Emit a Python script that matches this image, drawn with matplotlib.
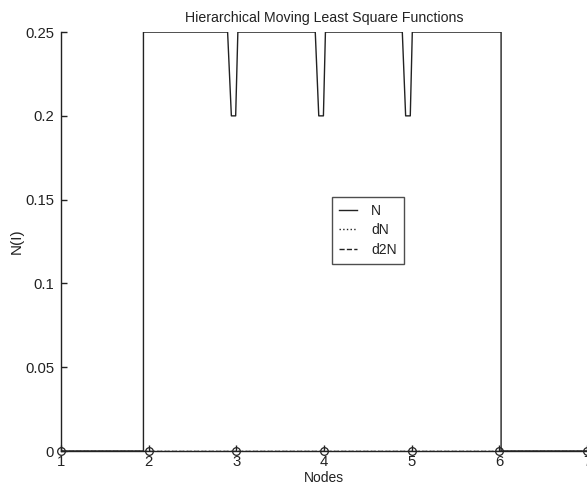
import matplotlib
import matplotlib.pyplot as plt

matplotlib.use("agg")

# node positions and the hierarchical shape function sampled along x
nodes = [1, 2, 3, 4, 5, 6, 7]
node_vals = [0, 0, 0, 0, 0, 0, 0]

x_N = [1.0, 1.94, 1.94,
       2.90, 2.943, 2.992, 3.017,
       3.90, 3.940, 3.993, 4.016,
       4.893, 4.931, 4.984, 5.007,
       6.02, 6.02, 7.0]
y_N = [0.0, 0.0, 0.25,
       0.25, 0.20, 0.20, 0.25,
       0.25, 0.20, 0.20, 0.25,
       0.25, 0.20, 0.20, 0.25,
       0.25, 0.0, 0.0]

x_dN = [1.0, 7.0]
y_dN = [0.0, 0.0]
x_d2N = [1.0, 7.0]
y_d2N = [0.0, 0.0]

yticks = [0, 0.05, 0.1, 0.15, 0.2, 0.25]
yticklabels = ["0", "0.05", "0.1", "0.15", "0.2", "0.25"]

plt.rcParams["font.family"] = ["Liberation Sans", "DejaVu Sans"]
plt.rcParams["font.size"] = 10

fig = plt.figure(figsize=(5.87, 4.86), dpi=100)
ax = fig.add_axes([0.104, 0.072, 0.896, 0.862])

ax.plot(x_N, y_N, color="#222222", lw=1.0, label="N")
ax.plot(x_dN, y_dN, color="#222222", lw=1.0, ls=":", label="dN")
ax.plot(x_d2N, y_d2N, color="#222222", lw=1.0, ls="--", label="d2N")
ax.plot(nodes, node_vals, "o", mfc="none", mec="#222222", ms=5.5, mew=0.9,
        clip_on=False)

ax.set_xlim(1, 7)
ax.set_ylim(0, 0.25)
ax.set_xticks(nodes)
ax.set_yticks(yticks)
ax.set_yticklabels(yticklabels)
ax.tick_params(direction="in", length=4, width=1.0, color="#222222",
               labelcolor="#222222", labelsize=10.7)
ax.tick_params(axis="y", pad=5)
ax.tick_params(axis="x", pad=3)

for side in ("top", "right"):
    ax.spines[side].set_visible(False)
for side in ("left", "bottom"):
    ax.spines[side].set_color("#222222")
    ax.spines[side].set_linewidth(1.0)

ax.set_title("Hierarchical Moving Least Square Functions", color="#222222",
             fontsize=10.2, pad=7)
ax.set_xlabel("Nodes", color="#222222", labelpad=1.5)
ax.set_ylabel("N(I)", color="#222222", fontsize=11)
ax.yaxis.set_label_coords(-0.071, 0.5)

leg = ax.legend(loc="center", bbox_to_anchor=(0.584, 0.527), frameon=True,
                fancybox=False, edgecolor="#222222", handlelength=1.3,
                handletextpad=1.0, borderpad=0.5, labelspacing=0.4,
                fontsize=10)
leg.get_frame().set_linewidth(1.0)
for t in leg.get_texts():
    t.set_color("#222222")

fig.savefig("out.png", dpi=100)
plt.close(fig)
